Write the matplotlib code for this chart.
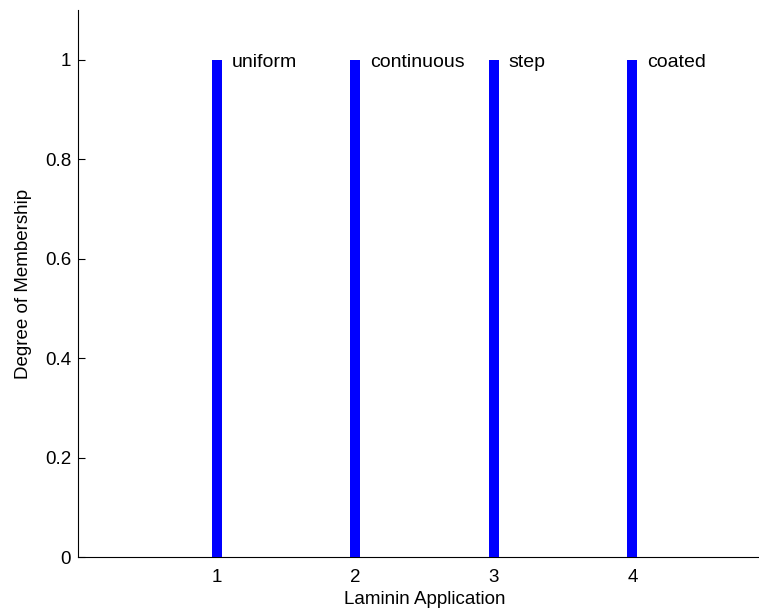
import matplotlib
matplotlib.use('Agg')
import matplotlib.pyplot as plt

# membership data
positions = [1, 2, 3, 4]
membership = [1, 1, 1, 1]
names = ['uniform', 'continuous', 'step', 'coated']

plt.rcParams['font.family'] = ['Liberation Sans', 'DejaVu Sans']

fig = plt.figure(figsize=(7.59, 6.14), dpi=100)
W, H = 759, 614
# axes: left 78px, bottom 557px, x from 0..5 (right edge beyond the image)
ax = fig.add_axes([78 / W, (H - 557) / H, (771 - 78) / W, (557 - 10) / H])

ax.vlines(positions, 0, membership, colors='#0000ff', linewidth=7.2, zorder=3)
for x, y, n in zip(positions, membership, names):
    ax.text(x + 0.108, y - 0.014, n, fontsize=14, va='baseline', ha='left')

ax.set_xlim(0, 5)
ax.set_ylim(0, 1.1)
ax.set_xticks([1, 2, 3, 4])
ax.set_yticks([0, 0.2, 0.4, 0.6, 0.8, 1])
ax.set_yticklabels(['0', '0.2', '0.4', '0.6', '0.8', '1'])
ax.tick_params(direction='in', length=5, width=0.8, labelsize=13.5)
ax.tick_params(axis='y', pad=5)
ax.tick_params(axis='x', pad=9)

ax.spines['top'].set_visible(False)
ax.spines['right'].set_visible(False)
ax.set_xlabel('Laminin Application', fontsize=13.5, labelpad=3)
ax.set_ylabel('Degree of Membership', fontsize=13.5, labelpad=9)

plt.savefig('out.png', dpi=100)
